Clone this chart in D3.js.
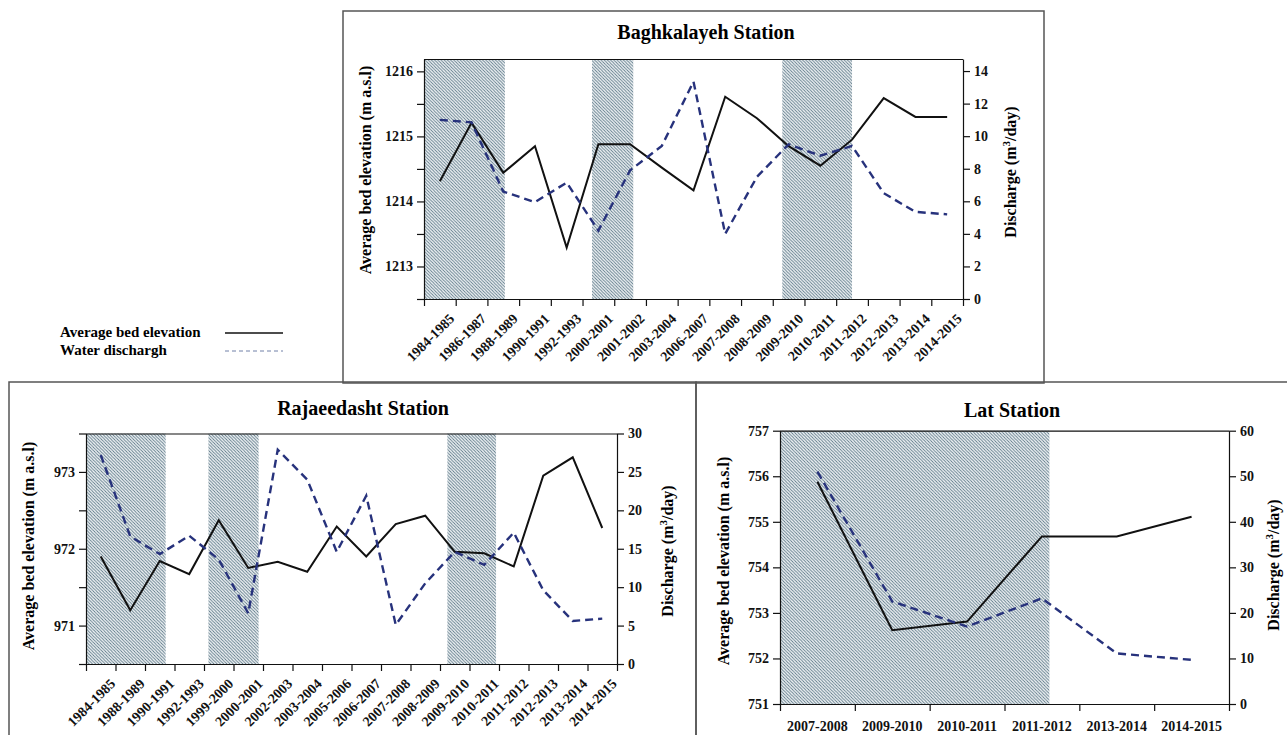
<!DOCTYPE html>
<html>
<head>
<meta charset="utf-8">
<script src="https://cdn.jsdelivr.net/npm/d3@7"></script>
<style>
  body { margin: 0; background: #fff; }
</style>
</head>
<body>
<div id="chart"></div>
<script>
// Baghkalayeh station
const baghYears = ["1984-1985", "1986-1987", "1988-1989", "1990-1991", "1992-1993", "2000-2001", "2001-2002",
  "2003-2004", "2006-2007", "2007-2008", "2008-2009", "2009-2010", "2010-2011", "2011-2012", "2012-2013",
  "2013-2014", "2014-2015"];
const baghBed = [1214.31, 1215.21, 1214.44, 1214.85, 1213.29, 1214.88, 1214.88, 1214.52, 1214.17, 1215.61,
  1215.28, 1214.85, 1214.55, 1214.95, 1215.59, 1215.30, 1215.30];
const baghQ = [11.0, 10.85, 6.6, 5.95, 7.15, 4.2, 7.9, 9.4, 13.35, 4.0, 7.5, 9.5, 8.8, 9.4, 6.5, 5.35, 5.2];
// shaded periods, in category units (0 = first year)
const baghShade = [[-0.5, 2.05], [4.8, 6.1], [10.8, 13.0]];

// Rajaeedasht station
const rajYears = ["1984-1985", "1988-1989", "1990-1991", "1992-1993", "1999-2000", "2000-2001", "2002-2003",
  "2003-2004", "2005-2006", "2006-2007", "2007-2008", "2008-2009", "2009-2010", "2010-2011", "2011-2012",
  "2012-2013", "2013-2014", "2014-2015"];
const rajBed = [971.90, 971.20, 971.84, 971.67, 972.37, 971.75, 971.83, 971.70, 972.29, 971.90, 972.32,
  972.43, 971.96, 971.94, 971.77, 972.95, 973.19, 972.27];
const rajQ = [27.2, 16.6, 14.3, 16.7, 13.6, 6.6, 27.9, 24.0, 14.6, 21.9, 5.1, 10.5, 14.6, 12.9, 17.1, 9.6, 5.6, 5.9];
const rajShade = [[-0.5, 2.2], [3.65, 5.35], [11.75, 13.4]];

// Lat station
const latYears = ["2007-2008", "2009-2010", "2010-2011", "2011-2012", "2013-2014", "2014-2015"];
const latBed = [755.88, 752.62, 752.81, 754.68, 754.68, 755.11];
const latQ = [51.0, 22.5, 17.0, 23.2, 11.1, 9.7];
const latShade = [[-0.5, 3.1]];

const legendItems = ["Average bed elevation", "Water dischargh"];

const FONT = '"Liberation Serif", "Times New Roman", Times, serif';
const W = 1287, H = 735;
const svg = d3.select('#chart').append('svg')
  .attr('width', W).attr('height', H)
  .attr('font-family', FONT).attr('font-weight', 'bold');

// hatch pattern for the shaded periods
const pat = svg.append('defs').append('pattern')
  .attr('id', 'hatch').attr('patternUnits', 'userSpaceOnUse')
  .attr('width', 3.2).attr('height', 3.2);
pat.append('rect').attr('width', 3.2).attr('height', 3.2).attr('fill', '#f1f4f6');
pat.append('path').attr('d', 'M-1,-1 L4.2,4.2 M-1,2.2 L1,4.2 M2.2,-1 L4.2,1')
  .attr('stroke', '#587585').attr('stroke-width', 0.85);

// panel frames
const boxes = [
  { x: 343, y: 11, w: 701, h: 372 },
  { x: 9, y: 382, w: 687, h: 370 },
  { x: 696, y: 382, w: 620, h: 370 }
];
svg.selectAll('rect.box').data(boxes).join('rect')
  .attr('class', 'box')
  .attr('x', d => d.x).attr('y', d => d.y).attr('width', d => d.w).attr('height', d => d.h)
  .attr('fill', 'none').attr('stroke', '#555').attr('stroke-width', 1.5);

function drawPanel(p) {
  const g = svg.append('g').attr('transform', `translate(${p.left},${p.top})`);
  const w = p.width, h = p.height, n = p.years.length;

  const x = d3.scaleBand().domain(p.years).range([0, w]);
  const xi = d3.scaleLinear().domain([-0.5, n - 0.5]).range([0, w]);
  const yL = d3.scaleLinear().domain(p.bedDomain).range([h, 0]);
  const yR = d3.scaleLinear().domain(p.qDomain).range([h, 0]);

  g.selectAll('rect.shade').data(p.shade).join('rect')
    .attr('class', 'shade')
    .attr('x', d => xi(d[0])).attr('width', d => xi(d[1]) - xi(d[0]))
    .attr('y', 0).attr('height', h)
    .attr('fill', 'url(#hatch)');

  // top frame line
  g.append('line').attr('x1', 0).attr('x2', w).attr('y1', 0.5).attr('y2', 0.5)
    .attr('stroke', '#111').attr('stroke-width', 1.2);

  const styleAxis = sel => {
    sel.attr('font-family', FONT).attr('font-weight', 'bold');
    sel.selectAll('path, line').attr('stroke', '#111').attr('stroke-width', 1.2);
    sel.selectAll('text').attr('font-size', 14).attr('fill', '#111');
  };

  g.append('g')
    .call(d3.axisLeft(yL).tickValues(p.bedTicks).tickSize(7).tickSizeOuter(0).tickPadding(4)
      .tickFormat(d => Number.isInteger(d) ? d : ''))
    .call(styleAxis);

  g.append('g').attr('transform', `translate(${w},0)`)
    .call(d3.axisRight(yR).tickValues(p.qTicks).tickSize(7).tickSizeOuter(0).tickPadding(4))
    .call(styleAxis);

  // ticks between categories
  g.append('g').attr('transform', `translate(0,${h})`)
    .call(d3.axisBottom(xi).tickValues(d3.range(n + 1).map(i => i - 0.5)).tickSize(7)
      .tickSizeOuter(0).tickFormat(''))
    .call(styleAxis);

  // category labels
  const lab = g.append('g').attr('transform', `translate(0,${h})`)
    .call(d3.axisBottom(x).tickSize(0).tickSizeOuter(0))
    .call(styleAxis);
  lab.select('.domain').remove();
  if (p.rotate) {
    lab.selectAll('text')
      .attr('text-anchor', 'end').attr('x', 0).attr('y', 0).attr('dy', '0.35em')
      .attr('transform', 'translate(12,17) rotate(-45)');
  } else {
    lab.selectAll('text').attr('y', 17);
  }

  const cx = (d, i) => x(p.years[i]) + x.bandwidth() / 2;

  g.append('path').datum(p.bed)
    .attr('fill', 'none').attr('stroke', '#111').attr('stroke-width', 2)
    .attr('d', d3.line().x(cx).y(d => yL(d)));

  g.append('path').datum(p.q)
    .attr('fill', 'none').attr('stroke', '#27327c').attr('stroke-width', 2.4)
    .attr('stroke-dasharray', '8,5')
    .attr('d', d3.line().x(cx).y(d => yR(d)));

  // titles
  svg.append('text').attr('x', p.titleX).attr('y', p.titleY)
    .attr('text-anchor', 'middle').attr('font-size', 20).text(p.title);

  svg.append('text')
    .attr('transform', `translate(${p.leftLabelX},${p.leftLabelY}) rotate(-90)`)
    .attr('text-anchor', 'middle').attr('dy', '0.35em').attr('font-size', 16)
    .text('Average bed elevation (m a.s.l)');

  const rt = svg.append('text')
    .attr('transform', `translate(${p.rightLabelX},${p.rightLabelY}) rotate(-90)`)
    .attr('text-anchor', 'middle').attr('dy', '0.35em').attr('font-size', 16);
  rt.append('tspan').text('Discharge (m');
  rt.append('tspan').attr('baseline-shift', 'super').attr('font-size', 11).text('3');
  rt.append('tspan').text('/day)');
}

drawPanel({
  title: 'Baghkalayeh Station', titleX: 706, titleY: 39,
  years: baghYears, bed: baghBed, q: baghQ, shade: baghShade,
  left: 424, top: 59, width: 539, height: 240,
  bedDomain: [1212.5, 1216.19], qDomain: [0, 14.74],
  bedTicks: d3.range(1212.5, 1216.01, 0.5), qTicks: d3.range(0, 14.01, 2),
  rotate: true,
  leftLabelX: 365, leftLabelY: 170, rightLabelX: 1010, rightLabelY: 172
});

drawPanel({
  title: 'Rajaeedasht Station', titleX: 363, titleY: 415,
  years: rajYears, bed: rajBed, q: rajQ, shade: rajShade,
  left: 86, top: 433.5, width: 531, height: 230.5,
  bedDomain: [970.5, 973.5], qDomain: [0, 30],
  bedTicks: d3.range(970.5, 973.51, 0.5), qTicks: d3.range(0, 30.01, 5),
  rotate: true,
  leftLabelX: 28, leftLabelY: 546, rightLabelX: 667, rightLabelY: 551
});

drawPanel({
  title: 'Lat Station', titleX: 1012, titleY: 417,
  years: latYears, bed: latBed, q: latQ, shade: latShade,
  left: 780, top: 430.7, width: 449, height: 273.3,
  bedDomain: [751, 757], qDomain: [0, 60],
  bedTicks: d3.range(751, 757.01, 1), qTicks: d3.range(0, 60.01, 10),
  rotate: false,
  leftLabelX: 723, leftLabelY: 561, rightLabelX: 1273, rightLabelY: 565
});

// legend
const leg = svg.append('g');
leg.selectAll('text').data(legendItems).join('text')
  .attr('x', 60).attr('y', (d, i) => 337 + i * 18)
  .attr('font-size', 15).text(d => d);
leg.selectAll('line').data(legendItems).join('line')
  .attr('x1', 225).attr('x2', 283)
  .attr('y1', (d, i) => 333 + i * 18).attr('y2', (d, i) => 333 + i * 18)
  .attr('stroke', (d, i) => i ? '#7080a8' : '#111')
  .attr('stroke-width', (d, i) => i ? 1 : 1.3)
  .attr('stroke-dasharray', (d, i) => i ? '4,3' : null);
</script>
</body>
</html>
